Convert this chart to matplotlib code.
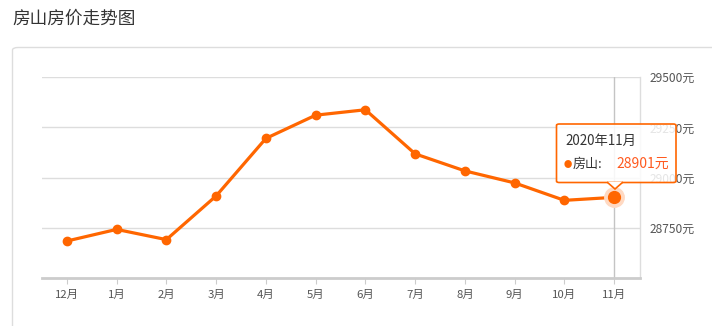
import matplotlib.pyplot as plt
from matplotlib.patches import FancyBboxPatch, Polygon

plt.rcParams['font.family'] = ['Noto Sans CJK SC', 'DejaVu Sans']

# data
months = ['12月', '1月', '2月', '3月', '4月', '5月', '6月', '7月', '8月', '9月', '10月', '11月']
prices = [28683, 28741, 28690, 28908, 29195, 29311, 29338, 29118, 29033, 28973, 28886, 28901]
y_ticks = [28750, 29000, 29250, 29500]
y_labels = ['28750元', '29000元', '29250元', '29500元']

orange = '#ff6600'
W, H = 712, 326

fig = plt.figure(figsize=(W / 100, H / 100), dpi=100)
fig.patch.set_facecolor('white')

def fx(px):
    return px / W

def fy(py):
    return 1 - py / H

# title and card
fig.text(fx(12), fy(19), '房山房价走势图', fontsize=12.7, color='#333333', va='center', ha='left')
card = FancyBboxPatch((fx(12.5), fy(340)), fx(720), 340 / H - 47.5 / H,
                      boxstyle='round,pad=0,rounding_size=0.008', transform=fig.transFigure,
                      facecolor='white', edgecolor='#dddddd', linewidth=1, zorder=-1)
fig.patches.append(card)

ax = fig.add_axes([fx(42), fy(277.7), fx(640 - 42), (277.7 - 77.3) / H])
ax.set_facecolor('none')
ax.set_zorder(1)
x = list(range(len(months)))
ax.set_xlim(-0.5, len(months) - 0.48)
ax.set_ylim(28500, 29500)

ax.set_yticks(y_ticks)
ax.set_yticklabels(y_labels)
ax.yaxis.tick_right()
ax.tick_params(axis='y', length=0, pad=7, labelsize=8.6, labelcolor='#555555')
ax.grid(axis='y', color='#dddddd', linewidth=1)
ax.set_axisbelow(True)

ax.set_xticks(x)
ax.set_xticklabels(months)
ax.tick_params(axis='x', length=4, color='#cccccc', pad=5, labelsize=8.2, labelcolor='#555555')

for s in ['top', 'left']:
    ax.spines[s].set_visible(False)
ax.spines['bottom'].set_color('#cccccc')
ax.spines['bottom'].set_linewidth(2)
ax.spines['right'].set_color('#dddddd')
ax.spines['right'].set_linewidth(1)

# hover pointer line
ax.axvline(x[-1], color='#c4c4c4', linewidth=1, zorder=1)

ax.plot(x, prices, color=orange, linewidth=2.3, marker='o', markersize=6, zorder=3)
ax.plot(x[-1], prices[-1], 'o', markersize=14, color='#ffd9c2', zorder=3.5)
ax.plot(x[-1], prices[-1], 'o', markersize=8.5, color=orange, zorder=4)

# tooltip
tip = FancyBboxPatch((fx(556.5), fy(182.5)), fx(676 - 556.5), (182.5 - 124) / H,
                     boxstyle='round,pad=0,rounding_size=0.004', transform=fig.transFigure,
                     facecolor=(1, 1, 1, 0.85), edgecolor=orange, linewidth=1.2, zorder=10)
fig.patches.append(tip)
arrow = Polygon([(fx(607), fy(182)), (fx(615), fy(189)), (fx(623), fy(182))],
                closed=False, transform=fig.transFigure, facecolor='white',
                edgecolor=orange, linewidth=1.2, zorder=11)
fig.patches.append(arrow)
fig.text(fx(565), fy(141), '2020年11月', fontsize=9.6, color='#333333', va='center', zorder=12)
fig.text(fx(563.5), fy(164), '●', fontsize=6, color=orange, va='center', zorder=12)
fig.text(fx(573), fy(164), '房山:', fontsize=9.4, color='#333333', va='center', zorder=12)
fig.text(fx(616), fy(164), '28901元', fontsize=10, color='#ff5a1f', va='center', zorder=12)

fig.savefig('out.png', dpi=100)
